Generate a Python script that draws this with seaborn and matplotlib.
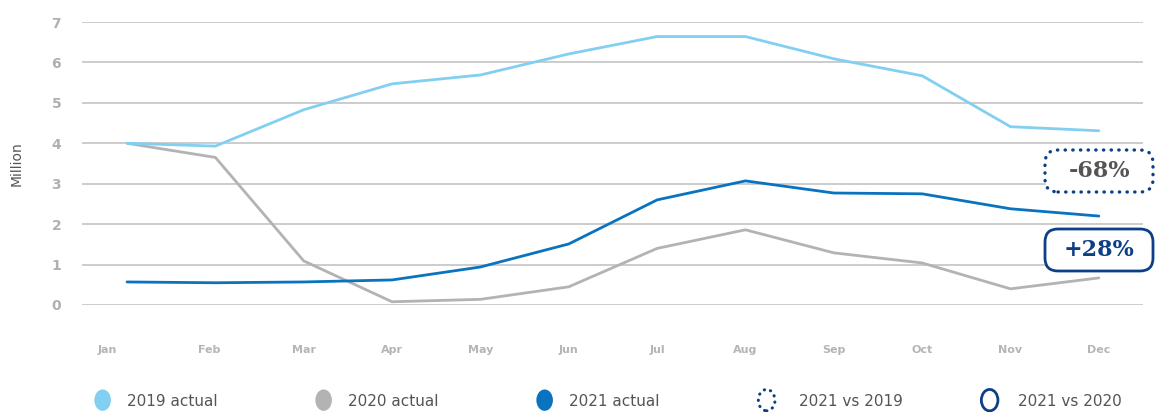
import matplotlib
matplotlib.use("Agg")
import matplotlib.pyplot as plt
import matplotlib.transforms as mtransforms
import seaborn as sns
import pandas as pd
from matplotlib.patches import FancyBboxPatch, Ellipse
from matplotlib.legend_handler import HandlerPatch

months = ["Jan", "Feb", "Mar", "Apr", "May", "Jun", "Jul", "Aug", "Sep", "Oct", "Nov", "Dec"]
actual_2019 = [4.0, 3.93, 4.83, 5.47, 5.69, 6.21, 6.64, 6.64, 6.09, 5.67, 4.41, 4.31]
actual_2020 = [4.0, 3.65, 1.09, 0.08, 0.14, 0.45, 1.40, 1.86, 1.29, 1.04, 0.40, 0.67]
actual_2021 = [0.57, 0.55, 0.57, 0.62, 0.94, 1.51, 2.60, 3.07, 2.77, 2.75, 2.38, 2.20]
series_names = ["2019 actual", "2020 actual", "2021 actual"]
compare_names = ["2021 vs 2019", "2021 vs 2020"]
compare_values = ["-68%", "+28%"]
yticks = [0, 1, 2, 3, 4, 5, 6, 7]

c19, c20, c21 = "#82cff2", "#b3b3b3", "#0a73c0"
navy = "#0d3f87"

sns.set_theme(style="white")
plt.rcParams["font.family"] = ["DejaVu Sans"]

fig = plt.figure(figsize=(11.56, 4.12), dpi=100)
W, H = 1156, 412
ax = fig.add_axes([82 / W, 1 - 305 / H, (1143 - 82) / W, (305 - 22) / H])

df = pd.DataFrame({"month": months * 3,
                   "value": actual_2019 + actual_2020 + actual_2021,
                   "series": [series_names[0]] * 12 + [series_names[1]] * 12 + [series_names[2]] * 12})
df["x"] = list(range(12)) * 3
palette = {series_names[0]: c19, series_names[1]: c20, series_names[2]: c21}
sns.lineplot(data=df, x="x", y="value", hue="series", palette=palette, linewidth=2,
             ax=ax, legend=False, hue_order=[series_names[1], series_names[0], series_names[2]])

ax.set_xlim(-0.51, 11.5)
ax.set_ylim(0, 7)
ax.set_yticks(yticks)
ax.set_xticks(range(12))
ax.set_xticklabels(months)
ax.yaxis.grid(True, color="#cccccc", linewidth=1.4)
ax.set_axisbelow(True)
for s in ax.spines.values():
    s.set_visible(False)
ax.tick_params(axis="y", length=0, pad=15, labelsize=10, labelcolor="#b0b0b0")
ax.tick_params(axis="x", length=0, pad=29, labelsize=8, labelcolor="#b5b5b5")
for t in ax.get_yticklabels():
    t.set_fontweight("bold")
xt = ax.get_xticklabels()
for t in xt:
    t.set_fontweight("bold")
shifts = [-20, -6]
for t, s in zip(xt, shifts):
    t.set_transform(t.get_transform() + mtransforms.ScaledTranslation(s / 100, 0, fig.dpi_scale_trans))
ax.set_xlabel("")
ax.set_ylabel("Million", fontsize=10, color="#555555", labelpad=20)

# Comparison boxes (pixel coordinates, y from top)
pix = mtransforms.IdentityTransform()
boxes = [(1045, 150, 1153, 192, (0, (0.1, 2.2)), "#555555"), (1045, 229, 1153, 271, "-", navy)]
for (x0, y0, x1, y1, ls, tc), val in zip(boxes, compare_values):
    p = FancyBboxPatch((x0, H - y1), x1 - x0, y1 - y0,
                       boxstyle="round,pad=0,rounding_size=13", transform=pix,
                       facecolor="white", edgecolor=navy, linewidth=2 if ls == "-" else 2.4,
                       linestyle=ls, capstyle="round")
    fig.add_artist(p)
    fig.text((x0 + x1) / 2 / W, 1 - (y0 + y1) / 2 / H, val, ha="center", va="center",
             fontsize=16, fontweight="bold", color=tc, family="DejaVu Serif")


class HandlerEllipse(HandlerPatch):
    def create_artists(self, legend, orig_handle, xdescent, ydescent, width, height, fontsize, trans):
        center = 0.5 * width - 0.5 * xdescent, 0.5 * height - 0.5 * ydescent
        p = Ellipse(xy=center, width=height * 1.55, height=height * 2.0)
        self.update_prop(p, orig_handle, legend)
        p.set_capstyle(orig_handle.get_capstyle())
        p.set_transform(trans)
        return [p]


handles = [
    Ellipse((0, 0), 1, 1, facecolor=c19, edgecolor="none"),
    Ellipse((0, 0), 1, 1, facecolor=c20, edgecolor="none"),
    Ellipse((0, 0), 1, 1, facecolor=c21, edgecolor="none"),
    Ellipse((0, 0), 1, 1, facecolor="none", edgecolor=navy, linestyle=(0, (0.1, 2.0)),
            linewidth=2.2, capstyle="round"),
    Ellipse((0, 0), 1, 1, facecolor="none", edgecolor=navy, linewidth=2),
]
labels = series_names + compare_names
circle_x = [103, 324, 545, 767, 990]
text_gap = [1.1, 1.1, 1.1, 1.6, 1.35]
for h, lab, cx, gap in zip(handles, labels, circle_x, text_gap):
    leg = fig.legend([h], [lab], loc="center left", bbox_to_anchor=((cx - 8) / W, 1 - 401 / H),
                     frameon=False, fontsize=11, labelcolor="#555555", handlelength=1.0,
                     handletextpad=gap, borderpad=0, borderaxespad=0,
                     handler_map={Ellipse: HandlerEllipse()})

fig.savefig("out.png", dpi=100)
